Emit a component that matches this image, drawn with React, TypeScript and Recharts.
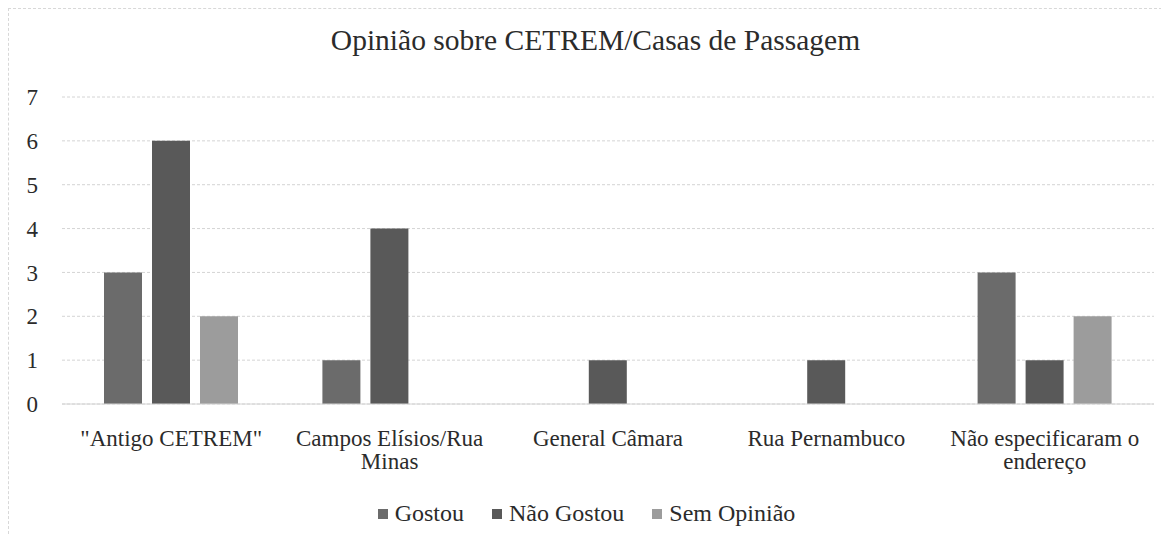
import { Bar, BarChart, CartesianGrid, Legend, XAxis, YAxis } from 'recharts'

const categories = [
  '"Antigo CETREM"',
  'Campos Elísios/Rua Minas',
  'General Câmara',
  'Rua Pernambuco',
  'Não especificaram o endereço',
]
const tickLines = [
  ['"Antigo CETREM"'],
  ['Campos Elísios/Rua', 'Minas'],
  ['General Câmara'],
  ['Rua Pernambuco'],
  ['Não especificaram o', 'endereço'],
]
const gostou = [3, 1, 0, 0, 3]
const naoGostou = [6, 4, 1, 1, 1]
const semOpiniao = [2, 0, 0, 0, 2]
const yTicks = [0, 1, 2, 3, 4, 5, 6, 7]

const FONT = '"Liberation Serif", serif'
const INK = '#2b2b2b'

const data = categories.map((name, i) => ({
  name,
  gostou: gostou[i],
  naoGostou: naoGostou[i],
  semOpiniao: semOpiniao[i],
}))

function CategoryTick(props: { x?: number; y?: number; payload?: { value: string; index: number } }) {
  const lines = tickLines[props.payload?.index ?? 0] ?? [props.payload?.value]
  return (
    <text
      x={props.x}
      y={(props.y ?? 0) + 34}
      textAnchor="middle"
      fill={INK}
      fontSize={23}
      fontFamily={FONT}
    >
      {lines.map((line, i) => (
        <tspan key={i} x={props.x} dy={i === 0 ? 0 : 23}>
          {line}
        </tspan>
      ))}
    </text>
  )
}

function LegendContent(props: { payload?: { value: string; color?: string }[] }) {
  return (
    <div
      style={{
        display: 'flex',
        justifyContent: 'center',
        gap: 28,
        fontFamily: FONT,
        fontSize: 24,
        color: INK,
        paddingLeft: 10,
      }}
    >
      {(props.payload ?? []).map((item) => (
        <span key={item.value} style={{ display: 'flex', alignItems: 'center' }}>
          <span
            style={{
              display: 'inline-block',
              width: 10,
              height: 10,
              background: item.color,
              marginRight: 7,
            }}
          />
          {item.value}
        </span>
      ))}
    </div>
  )
}

export default function App() {
  return (
    <div
      style={{
        position: 'relative',
        width: 1153,
        height: 525,
        borderTop: '1px dashed #d8d8d8',
        borderLeft: '1px dashed #d8d8d8',
        background: '#fff',
      }}
    >
      <div
        style={{
          position: 'absolute',
          top: 15,
          left: 10,
          width: 1153,
          textAlign: 'center',
          fontFamily: FONT,
          fontSize: 29.5,
          color: INK,
        }}
      >
        Opinião sobre CETREM/Casas de Passagem
      </div>
      <BarChart
        width={1152}
        height={524}
        data={data}
        margin={{ top: 88, right: 7, bottom: 27, left: 0 }}
        barGap={10}
        barCategoryGap={42}
      >
        <CartesianGrid vertical={false} stroke="#d4d4d4" strokeDasharray="3 2" />
        <XAxis
          dataKey="name"
          axisLine={{ stroke: '#d4d4d4' }}
          tickLine={false}
          interval={0}
          height={75}
          tick={<CategoryTick />}
        />
        <YAxis
          domain={[0, 7]}
          ticks={yTicks}
          width={53}
          axisLine={false}
          tickLine={false}
          tickMargin={18}
          tick={{ fill: INK, fontSize: 23, fontFamily: FONT }}
        />
        <Legend
          verticalAlign="bottom"
          content={<LegendContent />}
          wrapperStyle={{ bottom: 6 }}
        />
        <Bar dataKey="gostou" name="Gostou" fill="#6b6b6b" isAnimationActive={false} />
        <Bar dataKey="naoGostou" name="Não Gostou" fill="#595959" isAnimationActive={false} />
        <Bar dataKey="semOpiniao" name="Sem Opinião" fill="#9c9c9c" isAnimationActive={false} />
      </BarChart>
    </div>
  )
}
